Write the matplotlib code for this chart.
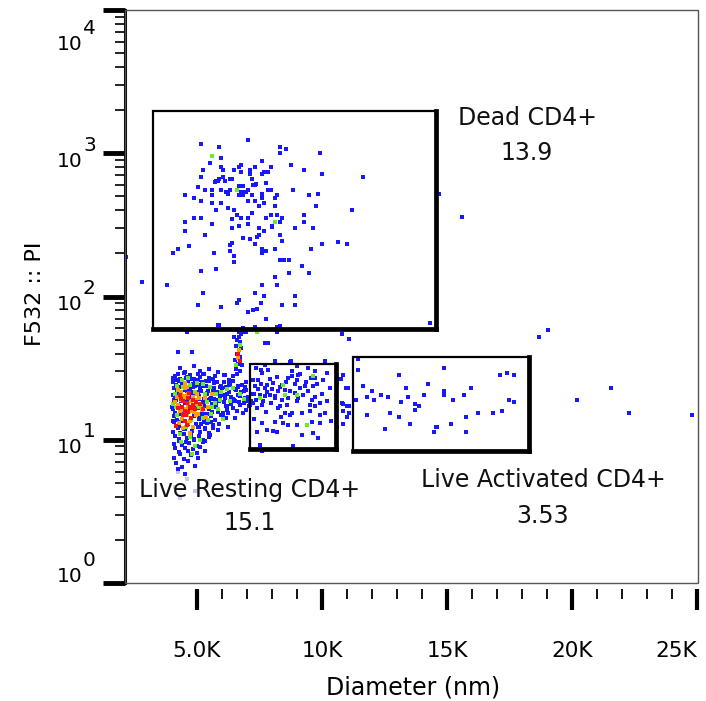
import matplotlib
matplotlib.use("Agg")
import matplotlib.pyplot as plt
from matplotlib.patches import Rectangle
from matplotlib.ticker import FixedLocator, LogLocator, NullFormatter
import matplotlib.transforms as mtrans
import numpy as np

plt.rcParams["font.family"] = ["DejaVu Sans"]

# ---------------- data (diameter in K nm, PI intensity) ----------------
# sparse blue events in / around the "Dead CD4+" gate
dead_x = [5.15, 5.87, 7.04, 8.31, 8.57, 8.31, 9.92, 5.96, 5.51, 7.59, 5.24, 5.96, 6.05, 6.49, 6.68, 6.77,
          7.12, 7.31, 7.67, 7.85, 7.95, 8.75, 9.28, 10.01, 11.63, 5.15, 5.87, 5.77, 5.72, 5.82, 6.05, 6.13,
          6.32, 6.41, 6.77, 7.13, 7.21, 7.31, 7.25, 7.35, 7.76, 7.59, 5.05, 5.33, 5.60, 5.96, 6.15, 6.23,
          6.32, 6.68, 6.85, 6.77, 6.85, 6.95, 6.68, 6.85, 7.04, 7.21, 7.04, 7.31, 7.49, 7.59, 7.59, 7.67,
          7.85, 7.95, 8.12, 8.21, 8.12, 8.84, 9.47, 9.83, 9.75, 11.19, 4.51, 4.87, 5.15, 5.60, 5.60, 5.96,
          5.77, 6.23, 6.49, 6.59, 6.77, 6.41, 7.04, 7.21, 7.76, 7.95, 8.21, 8.40, 8.31, 7.99, 7.99, 9.28,
          9.28, 9.64, 8.92, 4.51, 4.87, 5.15, 5.60, 4.51, 5.33, 6.41, 6.68, 7.04, 7.49, 7.67, 6.85, 7.12,
          7.40, 7.49, 7.31, 7.59, 7.76, 7.59, 8.31, 8.40, 8.12, 6.32, 6.40, 6.32, 6.49, 6.49, 5.69, 4.69,
          4.24, 4.05, 10.0, 10.64, 11.0, 9.56, 8.31, 8.48, 8.67, 9.20, 8.67, 9.47, 5.15, 5.77, 8.12, 7.59,
          8.21, 3.79, 5.24, 5.05, 5.96, 6.59, 6.68, 7.31, 7.67, 7.57, 7.40, 7.25, 7.04, 7.76, 8.40, 8.92,
          8.92, 5.87, 8.31, 8.20, 14.33, 2.80, 2.14, 14.69, 15.6,
          4.60, 6.68, 6.76, 6.85, 6.95, 8.21, 6.49, 6.68, 10.81, 11.09, 18.67, 19.03, 5.84, 7.32, 7.72,
          7.82, 8.12, 8.72, 4.24, 4.79]
dead_y = [1160, 1110, 1230, 1110, 1066, 1000, 1000, 925, 857, 885, 768, 800, 768, 768, 800, 830,
          768, 800, 735, 738, 800, 830, 768, 720, 685, 685, 658, 637, 630, 645, 685, 637,
          658, 658, 735, 720, 658, 605, 600, 612, 617, 720, 578, 555, 555, 555, 540, 518,
          555, 593, 593, 535, 535, 535, 508, 508, 555, 508, 467, 467, 430, 489, 520, 450,
          555, 555, 489, 508, 430, 555, 508, 520, 430, 400, 508, 489, 467, 508, 450, 450,
          400, 416, 400, 370, 355, 345, 355, 383, 355, 370, 370, 355, 333, 305, 312, 370,
          333, 300, 300, 333, 355, 355, 322, 288, 268, 300, 313, 322, 300, 288, 257, 250,
          262, 270, 233, 216, 209, 202, 268, 244, 216, 230, 236, 209, 193, 174, 202, 226,
          216, 202, 232, 241, 232, 216, 180, 180, 180, 162, 145, 145, 150, 155, 136, 121,
          121, 121, 105, 87, 84, 90, 95, 105, 101, 90, 82, 80, 78, 70, 87, 101,
          87, 63, 62, 61, 65, 126, 188, 520, 357,
          56.6, 56.6, 54.5, 56.6, 56.6, 56.6, 52.5, 52.5, 54.5, 50.7, 52.5, 58.5, 63.5, 61.6, 47.6,
          47.6, 35.3, 34.7, 40.8, 40.8]

# blue events in / around the "Live Resting CD4+" gate
rest_x = [8.12, 8.75, 7.56, 7.85, 7.59, 7.45, 7.32, 7.78, 8.05, 8.39, 8.65, 8.79, 9.05, 9.32, 9.72, 9.72,
          9.65, 10.19, 8.99, 9.12, 9.45, 8.52, 8.25, 7.92, 7.72, 8.12, 8.65, 8.92, 9.05, 9.59, 9.92, 9.72,
          7.59, 7.39, 7.25, 8.25, 8.32, 8.52, 8.79, 8.72, 9.19, 9.52, 10.12, 8.12, 8.45, 8.65, 8.99, 9.59,
          9.92, 7.39, 7.79, 8.19, 9.19, 7.52, 8.85, 7.59, 10.12, 6.99, 7.05, 7.12,
          7.25, 7.30, 7.35, 7.45, 7.50, 7.55, 7.65, 7.70, 7.80, 7.90, 7.95, 8.00, 8.10, 8.20, 8.30, 8.40,
          8.55, 8.60, 8.70, 8.80, 8.90, 9.00, 9.10, 9.25, 9.35, 9.50, 9.55, 9.70, 9.80, 9.90, 10.0, 10.05,
          10.2, 10.3, 10.35, 7.30, 7.60, 7.75, 8.05, 8.35, 9.65, 9.85, 7.35, 7.70, 9.00, 9.45]
rest_y = [35.2, 35.2, 30.8, 30.7, 29.2, 26.3, 23.6, 24.2, 24.9, 24.2, 27.0, 27.7, 28.5, 23.6, 30.3, 27.0,
          23.6, 29.2, 26.3, 23.0, 21.8, 22.3, 21.8, 20.6, 20.1, 19.5, 19.5, 21.2, 19.5, 19.0, 18.0, 17.1,
          17.5, 16.6, 18.0, 16.6, 17.1, 15.4, 15.4, 14.9, 15.4, 15.8, 15.4, 13.4, 13.1, 12.7, 12.7, 13.4,
          13.1, 11.4, 11.7, 11.4, 10.8, 9.2, 9.0, 8.3, 35.2, 19.5, 18.5, 17.5,
          26.0, 21.0, 19.0, 22.5, 20.5, 24.5, 18.5, 23.0, 21.5, 26.5, 18.0, 22.5, 20.3, 27.5, 23.2, 19.0,
          25.5, 17.5, 22.0, 30.0, 24.5, 18.5, 29.0, 20.5, 25.5, 17.5, 27.0, 20.0, 24.5, 15.0, 21.0, 26.0,
          18.5, 23.0, 13.5, 14.0, 13.0, 15.5, 11.5, 14.5, 11.2, 10.3, 31.5, 33.0, 32.5, 31.5]

# blue events in / around the "Live Activated CD4+" gate (and between the two live gates)
act_x = [11.45, 11.45, 13.07, 14.88, 17.13, 17.40, 17.67, 11.63, 11.99, 11.81, 12.08, 12.35, 12.63, 13.35,
         13.44, 13.16, 13.71, 13.71, 13.88, 14.08, 14.24, 14.88, 14.88, 15.24, 15.69, 15.96, 17.49, 17.67,
         17.21, 16.85, 16.23, 15.77, 15.15, 14.56, 14.62, 14.50, 15.77, 13.52, 13.07, 12.71, 12.53, 11.81,
         11.36, 20.19, 21.55, 22.27, 24.79,
         10.83, 10.70, 10.75, 10.60, 10.96, 11.02, 10.78, 10.85, 11.00, 11.06, 10.83, 11.09, 11.00, 10.83,
         10.60]
act_y = [36.7, 30.5, 28.3, 31.7, 28.3, 29.4, 28.3, 23.6, 22.0, 19.8, 19.0, 20.5, 19.8, 22.8,
         19.8, 18.3, 17.8, 16.1, 17.1, 20.6, 24.6, 22.0, 20.5, 19.0, 20.5, 22.8, 19.0, 18.3,
         15.9, 15.4, 15.4, 14.3, 12.8, 12.3, 12.3, 11.4, 11.4, 12.8, 14.3, 15.4, 11.9, 14.8,
         19.0, 19.0, 22.8, 15.4, 14.8,
         28.3, 26.5, 26.5, 24.5, 22.8, 22.8, 18.1, 17.8, 17.1, 17.1, 15.9, 15.4, 14.3, 12.8,
         12.3]

# dense low-diameter population (blue = low density ... red = highest density)
clu_blue_x = [4.32, 4.53, 4.88, 5.12, 5.23, 5.47, 5.83, 6.07,
              4.12, 4.22, 4.33, 4.47, 4.58, 4.73, 4.87, 5.02, 5.13, 5.28, 5.47, 5.73, 6.12, 6.28,
              4.03, 4.17, 4.27, 4.38, 4.52, 4.63, 4.82, 4.93, 5.07, 5.18, 5.37, 5.48, 5.67, 5.78, 5.97, 6.08,
              6.27, 6.43, 6.62, 6.78, 6.97,
              4.07, 4.18, 4.32, 4.53, 4.72, 4.83, 5.02, 5.13, 5.32, 5.43, 5.62, 5.68, 5.87, 5.98, 6.17, 6.28,
              6.52, 6.63, 6.87, 6.98,
              4.04, 4.12, 4.23, 4.42, 4.58, 4.82, 5.08, 5.27, 5.38, 5.57, 5.68, 5.82, 5.93, 6.12, 6.18, 6.37,
              6.48, 6.62, 6.73, 6.92, 7.03, 7.17,
              4.06, 4.17, 4.28, 4.52, 4.88, 5.22, 5.28, 5.47, 5.58, 5.77, 5.88, 6.07, 6.18, 6.37, 6.53, 6.72,
              6.88, 7.07, 7.18,
              4.03, 4.22, 4.38, 5.02, 5.18, 5.37, 5.48, 5.72, 5.83, 6.02, 6.18, 6.42, 6.58, 6.82, 6.98,
              4.07, 4.18, 4.37, 5.08, 5.27, 5.38, 5.57, 5.73, 6.02, 6.23, 6.52,
              4.08, 4.27, 4.38, 4.97, 5.08, 5.27, 5.38, 5.62, 5.88, 6.22,
              4.03, 4.22, 4.33, 4.52, 4.78, 5.02, 5.13, 5.32, 5.48, 5.82,
              4.12, 4.28, 4.47, 4.58, 4.77, 4.88, 5.07, 5.23, 5.47,
              4.08, 4.27, 4.38, 4.57, 4.68, 4.87, 4.98, 5.22,
              4.12, 4.28, 4.52, 4.63, 4.82, 4.98, 5.32,
              4.08, 4.32, 4.48, 4.77, 5.03,
              4.17, 4.38, 4.62, 4.93, 4.22, 4.53,
              4.02, 4.14, 4.09, 4.01, 4.13, 4.04, 4.21, 4.26, 4.34, 4.29, 4.42, 4.44, 4.46, 4.56, 4.61, 4.63,
              4.68, 4.71, 4.73, 4.79, 4.84, 4.86, 4.92, 4.94, 5.04, 5.06, 5.09, 5.16, 5.19, 5.24, 5.29, 5.33,
              5.41, 5.36, 5.52, 5.58, 5.63, 5.71, 5.76, 5.91, 6.03, 6.14, 6.26, 6.33, 6.44, 6.57, 6.68, 6.77,
              6.93, 7.02,
              5.15, 5.55, 5.65, 5.95, 6.15, 5.50, 5.30, 5.10,
              6.85, 6.75, 6.60, 6.70, 6.55, 6.75, 6.60, 6.70, 6.50, 6.65, 6.80, 6.55, 6.70, 6.60, 6.45]
clu_blue_y = [31.8, 29.6, 32.5, 30.2, 28.7, 31.4, 29.9, 28.4,
              27.9, 28.8, 26.6, 29.3, 27.2, 28.1, 26.4, 28.6, 27.4, 29.0, 26.8, 27.7, 28.4, 26.2,
              25.3, 24.1, 25.9, 24.7, 23.8, 25.6, 24.4, 26.1, 24.2, 25.2, 23.6, 25.7, 24.8, 25.4, 23.9, 25.1,
              24.6, 25.8, 23.7, 24.3, 25.5,
              22.9, 21.6, 23.4, 22.2, 21.8, 23.3, 21.5, 22.7, 23.6, 21.9, 22.4, 23.1, 21.7, 22.8, 23.5, 21.4,
              22.6, 23.2, 21.8, 22.3,
              20.4, 19.2, 20.9, 19.8, 19.4, 21.1, 20.2, 19.1, 20.7, 19.7, 19.3, 20.8, 20.1, 19.6, 21.0, 19.9,
              19.0, 20.6, 20.3, 19.5, 19.8, 20.9,
              18.3, 18.9, 17.2, 18.1, 17.6, 18.4, 17.3, 18.8, 17.9, 17.4, 18.7, 18.2, 17.1, 17.8, 18.6, 17.5,
              18.0, 17.3, 18.5,
              16.3, 16.8, 15.3, 16.6, 15.9, 15.2, 16.4, 16.9, 15.7, 15.4, 16.2, 16.7, 15.8, 15.3, 16.1,
              14.7, 13.8, 15.2, 14.3, 13.9, 15.1, 14.6, 13.7, 14.4, 15.3, 14.1,
              13.2, 12.4, 13.6, 12.8, 12.3, 13.4, 13.1, 12.6, 12.9, 12.2,
              11.4, 12.1, 11.2, 11.9, 11.6, 12.2, 11.3, 11.8, 11.1, 11.7,
              10.6, 10.1, 10.9, 10.3, 10.8, 10.2, 10.7, 10.0, 10.4,
              9.3, 9.8, 9.2, 9.7, 9.5, 9.9, 9.1, 9.6,
              8.7, 8.2, 8.8, 8.3, 8.6, 8.1, 8.4,
              7.5, 7.9, 7.3, 7.8, 7.4,
              6.9, 6.5, 7.1, 6.6, 6.2, 5.8,
              26.8, 23.2, 19.0, 16.9, 15.4, 13.6, 26.3, 21.2, 18.7, 13.3, 24.3, 16.1, 11.9, 26.9, 21.9, 12.8,
              23.1, 19.9, 15.8, 26.4, 21.6, 14.6, 23.9, 16.9, 26.3, 19.3, 13.9, 21.8, 15.1, 23.7, 17.7, 12.1,
              21.1, 25.6, 19.1, 15.6, 26.7, 21.4, 18.9, 23.4, 20.6, 17.1, 21.6, 24.1, 19.3, 22.4, 18.3, 21.4,
              23.4, 19.0,
              12.8, 13.2, 12.0, 15.0, 14.2, 10.8, 9.8, 8.9,
              60.0, 56.0, 50.0, 48.0, 45.0, 44.0, 40.0, 38.0, 36.0, 34.0, 33.0, 31.0, 30.0, 29.0, 28.0]

clu_green_x = [4.10, 4.35, 4.20, 4.45, 4.70, 4.90, 5.05, 4.55, 4.75, 4.30, 5.10, 4.90, 5.30, 5.50, 5.60,
               5.95, 6.30, 6.45, 4.60, 4.15, 4.80, 5.45, 4.40, 6.70, 6.05, 6.72, 6.55,
               4.05, 4.18, 4.62, 5.00, 5.22, 5.40, 5.75, 4.35, 4.70, 6.20, 6.90, 5.85,
               5.55, 5.70, 5.25, 5.90,
               5.59, 6.59, 8.12, 7.40, 9.65, 8.52, 7.52, 8.45, 8.99, 9.39]
clu_green_y = [21.0, 19.0, 14.8, 23.5, 24.0, 21.5, 17.0, 12.3, 13.8, 11.0, 10.0, 9.0, 21.0, 23.5, 17.0,
               21.5, 18.5, 23.0, 15.0, 16.8, 8.0, 13.8, 26.0, 21.0, 14.0, 46.0, 33.5,
               17.8, 23.8, 27.0, 25.0, 14.2, 18.4, 20.8, 9.6, 10.5, 22.5, 19.4, 16.3,
               15.2, 18.0, 24.5, 19.0,
               960, 555, 333, 56.6, 27.7, 20.6, 19.5, 24.2, 20.6, 12.7]

clu_orange_x = [4.35, 4.50, 4.65, 4.75, 4.90, 4.25, 4.55, 4.80, 4.95, 4.40, 4.65, 4.50, 5.00, 4.85, 4.30,
                5.15, 4.70, 4.20, 5.05, 6.68, 6.62,
                4.12, 4.22, 4.38, 4.48, 4.58, 4.62, 4.72, 4.82, 4.88, 4.98, 5.08, 4.28, 4.42, 4.52, 5.20,
                5.30, 5.45, 5.60, 5.35]
clu_orange_y = [21.5, 19.5, 20.8, 18.5, 19.0, 17.5, 16.5, 16.0, 14.8, 14.0, 13.0, 22.8, 21.0, 12.3, 15.8,
                17.2, 11.2, 19.8, 15.2, 42.0, 37.0,
                18.2, 22.3, 16.2, 20.2, 23.4, 17.6, 13.6, 20.0, 15.6, 17.8, 19.6, 13.0, 12.0, 25.0, 16.2,
                19.5, 17.0, 21.0, 14.5]

clu_red_x = [4.45, 4.60, 4.70, 4.40, 4.55, 4.85, 4.30, 4.65, 4.95, 4.50, 4.15, 4.75, 6.65, 6.70,
             4.36, 4.52, 4.62, 4.78, 4.42, 4.68, 4.90, 4.25, 4.58, 4.82, 5.10, 5.25]
clu_red_y = [18.5, 18.0, 17.0, 16.8, 14.8, 17.5, 20.5, 15.5, 18.2, 13.5, 12.5, 14.2, 39.5, 35.5,
             19.2, 16.0, 19.6, 16.6, 15.0, 21.2, 16.4, 16.6, 12.6, 18.8, 17.8, 16.4]

faint_x = [4.24, 4.60, 4.10, 4.90, 4.30]
faint_y = [6.0, 5.3, 4.7, 4.4, 3.9]

# gates: (x0, x1) in K nm, (y0, y1) in PI
gate_names = ["Dead CD4+", "Live Resting CD4+", "Live Activated CD4+"]
gate_pct = ["13.9", "15.1", "3.53"]
gate_x0 = [3.25, 7.12, 11.25]
gate_x1 = [14.56, 10.56, 18.28]
gate_y0 = [59.3, 8.65, 8.38]
gate_y1 = [1960, 33.8, 37.9]
# label anchor points (K nm, PI) for name and percentage
label_x = [18.2, 7.12, 18.84]
label_name_y = [1758, 4.47, 5.25]
label_pct_y = [1000, 2.63, 2.94]

xtick_vals = [5000, 10000, 15000, 20000, 25000]
xtick_labels = ["5.0K", "10K", "15K", "20K", "25K"]
xminor_vals = [v * 1000 for v in range(6, 25) if v % 5 != 0]
ytick_exps = [0, 1, 2, 3, 4]

# ---------------- figure ----------------
fig = plt.figure(figsize=(7.06, 7.01), dpi=100)
ax = fig.add_axes([125 / 706, 118 / 701, 573 / 706, 573 / 701])
ax.set_yscale("log")
ax.set_xlim(2120, 25040)
ax.set_ylim(1, 1e4)

K = 1000.0
ms = 5.5
ax.scatter(np.array(faint_x) * K, faint_y, s=ms, marker="s", c="#c4c4ff", linewidths=0, zorder=2)
for xs, ys in [(dead_x, dead_y), (rest_x, rest_y), (act_x, act_y), (clu_blue_x, clu_blue_y)]:
    ax.scatter(np.array(xs) * K, ys, s=ms, marker="s", c="#1818ff", linewidths=0, zorder=2)
ax.scatter(np.array(clu_green_x) * K, clu_green_y, s=ms, marker="s", c="#66ee22", linewidths=0, zorder=3)
ax.scatter(np.array(clu_orange_x) * K, clu_orange_y, s=ms, marker="s", c="#ffa000", linewidths=0, zorder=4)
ax.scatter(np.array(clu_red_x) * K, clu_red_y, s=ms, marker="s", c="#ff1010", linewidths=0, zorder=5)

for i in range(len(gate_names)):
    x0, x1 = gate_x0[i] * K, gate_x1[i] * K
    y0, y1 = gate_y0[i], gate_y1[i]
    ax.add_patch(Rectangle((x0, y0), x1 - x0, y1 - y0, fill=False, ec="black", lw=1.6, zorder=6))
    ax.plot([x1, x1], [y0, y1], color="black", lw=3.4, solid_capstyle="projecting", zorder=6)
    ax.plot([x0, x1], [y0, y0], color="black", lw=3.4, solid_capstyle="projecting", zorder=6)
    ax.text(label_x[i] * K, label_name_y[i], gate_names[i], ha="center", va="center",
            fontsize=17, color="#111111", zorder=7)
    ax.text(label_x[i] * K, label_pct_y[i], gate_pct[i], ha="center", va="center",
            fontsize=17, color="#111111", zorder=7)

# frame
for s in ["top", "right"]:
    ax.spines[s].set_visible(False)
ax.spines["left"].set_linewidth(2.2)
ax.spines["left"].set_color("black")
ax.spines["bottom"].set_position(("outward", 4))
ax.spines["bottom"].set_color("none")
ax.add_patch(Rectangle((0, 0), 1, 1, transform=ax.transAxes, fill=False, ec="#555555", lw=1.0,
                       clip_on=False, zorder=8))

# x ticks
ax.xaxis.set_major_locator(FixedLocator(xtick_vals))
ax.set_xticklabels(xtick_labels)
ax.xaxis.set_minor_locator(FixedLocator(xminor_vals))
ax.tick_params(axis="x", which="major", direction="out", length=15, width=3, pad=23,
               labelsize=15.5, colors="black")
ax.tick_params(axis="x", which="minor", direction="out", length=7, width=1.3, colors="black")
ax.get_xticklabels()[-1].set_horizontalalignment("right")

# y ticks
ax.yaxis.set_major_locator(LogLocator(base=10, numticks=10))
ax.yaxis.set_minor_locator(LogLocator(base=10, subs=np.arange(2, 10), numticks=20))
ax.yaxis.set_minor_formatter(NullFormatter())
ax.tick_params(axis="y", which="major", direction="out", length=16, width=3.5, labelleft=False)
ax.tick_params(axis="y", which="minor", direction="out", length=7, width=1.2)

ytr = ax.get_yaxis_transform()
base_off = {0: 6, 1: -8, 2: -8, 3: -8, 4: -34}
for e in ytick_exps:
    v = 10.0 ** e
    t1 = mtrans.offset_copy(ytr, fig=fig, x=0, y=base_off[e], units="dots")
    t2 = mtrans.offset_copy(ytr, fig=fig, x=0, y=base_off[e] + 16, units="dots")
    ax.text(-42 / 573, v, "10", transform=t1, ha="right", va="center", fontsize=14.5, clip_on=False)
    ax.text(-42 / 573, v, str(e), transform=t2, ha="left", va="center", fontsize=14.5, clip_on=False)

fig.text(35 / 706, 1 - 294 / 701, "F532 :: PI", rotation=90, ha="center", va="center", fontsize=16)
fig.text(413 / 706, 1 - 688 / 701, "Diameter (nm)", ha="center", va="center", fontsize=17)

fig.savefig("out.png", dpi=100)
